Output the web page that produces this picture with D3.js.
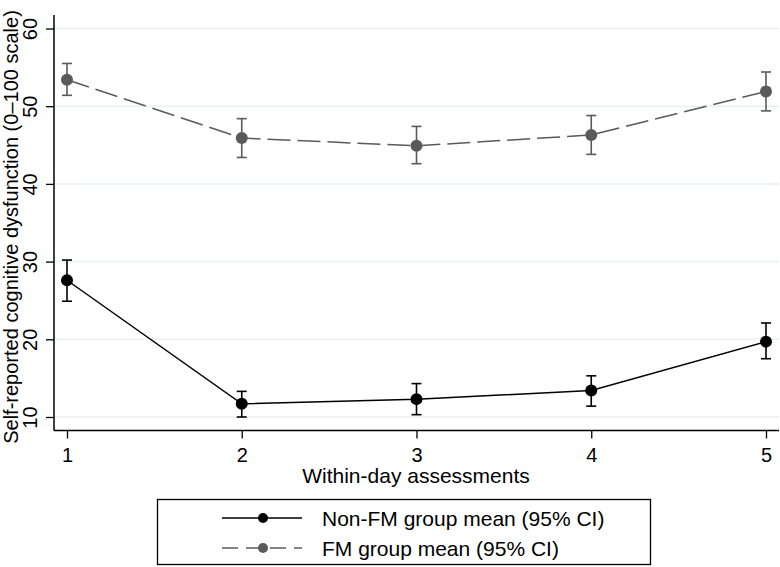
<!DOCTYPE html>
<html><head><meta charset="utf-8">
<script src="https://cdn.jsdelivr.net/npm/d3@7"></script>
<style>body{margin:0;background:#fff}svg{display:block}text{font-family:Arial,"Liberation Sans",sans-serif}</style>
</head><body>
<svg id="c" width="780" height="567"></svg>
<script>
const assessments = [1, 2, 3, 4, 5];
const nonFmMean = [27.6, 11.7, 12.3, 13.4, 19.7];
const nonFmLow  = [24.9, 10.0, 10.3, 11.4, 17.5];
const nonFmHigh = [30.2, 13.3, 14.3, 15.3, 22.1];
const fmMean = [53.4, 45.9, 44.9, 46.3, 51.9];
const fmLow  = [51.4, 43.4, 42.6, 43.8, 49.4];
const fmHigh = [55.5, 48.4, 47.4, 48.8, 54.4];
const yTicks = [10, 20, 30, 40, 50, 60];
const xTicks = [1, 2, 3, 4, 5];
const legendLabels = ["Non-FM group mean (95% CI)", "FM group mean (95% CI)"];

const svg = d3.select("#c");
const x = d3.scaleLinear().domain([1, 5]).range([67, 766]);
const y = d3.scaleLinear().domain([10, 60]).range([417, 28.5]);
const plotLeft = 54, plotRight = 779, plotBottom = 430.5, plotTop = 15;

// gridlines
svg.append("g").selectAll("line").data(yTicks).join("line")
  .attr("x1", plotLeft).attr("x2", plotRight).attr("y1", d => y(d)).attr("y2", d => y(d))
  .attr("stroke", "#e8f0f2").attr("stroke-width", 1.5);

// axes
const yAxis = d3.axisLeft(y).tickValues(yTicks).tickSize(8).tickPadding(0).tickFormat(d3.format("d"));
const gy = svg.append("g").attr("transform", `translate(${plotLeft},0)`).call(yAxis);
gy.select(".domain").remove();
gy.selectAll(".tick line").attr("stroke", "#000").attr("stroke-width", 1.3);
gy.selectAll(".tick text").attr("font-size", 20).attr("fill", "#000")
  .attr("text-anchor", "middle").attr("x", null).attr("dy", null)
  .attr("transform", "translate(-17,0) rotate(-90)").attr("y", 0);

const xAxis = d3.axisBottom(x).tickValues(xTicks).tickSize(8).tickPadding(0).tickFormat(d3.format("d"));
const gx = svg.append("g").attr("transform", `translate(0,${plotBottom})`).call(xAxis);
gx.select(".domain").remove();
gx.selectAll(".tick line").attr("stroke", "#000").attr("stroke-width", 1.3);
gx.selectAll(".tick text").attr("font-size", 20).attr("fill", "#000").attr("y", 31).attr("dy", null);

svg.append("line").attr("x1", plotLeft).attr("x2", plotLeft).attr("y1", plotTop).attr("y2", plotBottom)
  .attr("stroke", "#000").attr("stroke-width", 1.5);
svg.append("line").attr("x1", plotLeft).attr("x2", plotRight).attr("y1", plotBottom).attr("y2", plotBottom)
  .attr("stroke", "#000").attr("stroke-width", 1.5);

// axis titles
svg.append("text").attr("x", 416).attr("y", 483).attr("text-anchor", "middle")
  .attr("font-size", 21).text("Within-day assessments");
svg.append("text").attr("transform", "translate(18,227) rotate(-90)")
  .attr("text-anchor", "middle").attr("font-size", 20)
  .text("Self-reported cognitive dysfunction (0\u2013100 scale)");

function drawSeries(mean, low, high, color, dash, width) {
  const g = svg.append("g");
  const pts = assessments.map((a, i) => ({a, m: mean[i], lo: low[i], hi: high[i]}));
  g.append("path").datum(pts)
    .attr("d", d3.line().x(d => x(d.a)).y(d => y(d.m)))
    .attr("fill", "none").attr("stroke", color).attr("stroke-width", width)
    .attr("stroke-dasharray", dash);
  const eb = g.selectAll("g.eb").data(pts).join("g");
  eb.append("line").attr("x1", d => x(d.a)).attr("x2", d => x(d.a))
    .attr("y1", d => y(d.lo)).attr("y2", d => y(d.hi)).attr("stroke", color).attr("stroke-width", 1.6);
  eb.append("line").attr("x1", d => x(d.a) - 5).attr("x2", d => x(d.a) + 5)
    .attr("y1", d => y(d.hi)).attr("y2", d => y(d.hi)).attr("stroke", color).attr("stroke-width", 1.6);
  eb.append("line").attr("x1", d => x(d.a) - 5).attr("x2", d => x(d.a) + 5)
    .attr("y1", d => y(d.lo)).attr("y2", d => y(d.lo)).attr("stroke", color).attr("stroke-width", 1.6);
  eb.append("circle").attr("cx", d => x(d.a)).attr("cy", d => y(d.m)).attr("r", 6).attr("fill", color);
}
drawSeries(fmMean, fmLow, fmHigh, "#5a5a5a", "23,7", 1.5);
drawSeries(nonFmMean, nonFmLow, nonFmHigh, "#000", null, 1.5);

// legend
const lg = svg.append("g");
lg.append("rect").attr("x", 157.5).attr("y", 499.5).attr("width", 493).attr("height", 65)
  .attr("fill", "#fff").attr("stroke", "#000").attr("stroke-width", 1.3);
const legendStyles = [{color: "#000", dash: null}, {color: "#5a5a5a", dash: "16,8"}];
legendLabels.forEach((lab, i) => {
  const yy = 518 + i * 30;
  lg.append("line").attr("x1", 222).attr("x2", 302).attr("y1", yy).attr("y2", yy)
    .attr("stroke", legendStyles[i].color).attr("stroke-width", 1.5)
    .attr("stroke-dasharray", legendStyles[i].dash);
  lg.append("circle").attr("cx", 263).attr("cy", yy).attr("r", 5).attr("fill", legendStyles[i].color);
  lg.append("text").attr("x", 322).attr("y", yy + 8).attr("font-size", 21).text(lab);
});
</script>
</body></html>
